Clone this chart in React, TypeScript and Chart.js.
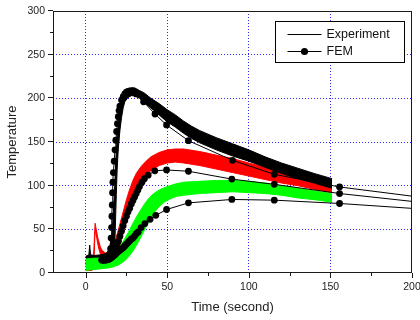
import React, { useEffect, useRef } from 'react';
import { Chart, registerables } from 'chart.js';

Chart.register(...registerables);

// ---------- axes / text ----------
const X_TICKS = [0, 25, 50, 75, 100, 125, 150, 175, 200];
const X_LABELS = [0, 50, 100, 150, 200];
const X_GRID = [0, 50, 100, 150];
const Y_TICKS = [0, 25, 50, 75, 100, 125, 150, 175, 200, 225, 250, 275, 300];
const Y_LABELS = [0, 50, 100, 150, 200, 250, 300];
const Y_GRID = [50, 100, 150, 200, 250];
const X_TITLE = 'Time (second)';
const Y_TITLE = 'Temperature';
const LEGEND_LABELS = ['Experiment', 'FEM'];

// ---------- experiment 1 (black band): lower / upper edge ----------
const EXP1_LOW = [[0,10],[5,11],[10,12],[13,13],[16,14],[17,18],[18,40],[18.8,90],[19.3,118],[20,142],[21,163],[22,178],[23,189],[24,196],[26,201],[28,203],[30,203],[33,200],[36,195],[40,189],[45,181],[50,173],[55,167],[60,160],[65,154],[70,149],[80,141],[90,134],[100,128],[110,121],[120,114],[130,108],[140,103],[151,97]];
const EXP1_HIGH = [[0,19],[2,21],[2.5,32],[3,21],[5,20],[10,21],[13,23],[14.5,28],[16,42],[17,70],[17.8,100],[18.5,130],[19.3,155],[20.3,175],[21.3,190],[22.5,200],[24,206],[26,209],[28,212],[30,212],[33,209],[36,206],[40,200],[45,194],[50,187],[55,181],[60,174],[65,168],[70,163],[80,155],[90,148],[100,141],[110,133],[120,126],[130,120],[140,114],[151,108]];

// ---------- experiment 2 (red band) ----------
const EXP2_LOW = [[0,3],[4,3],[5,5],[5.6,40],[6,50],[7,38],[8,28],[9,22],[10,17],[12,13],[16,14],[18,18],[20,25],[22,38],[24,52],[26,66],[28,79],[30,90],[32,99],[34,106],[36,111],[40,117],[45,123],[50,126],[55,127],[60,126],[70,123],[80,119],[90,115],[100,111],[110,107],[120,103],[130,100],[140,96],[151,92]];
const EXP2_HIGH = [[0,12],[4,12],[5,25],[5.8,57],[6.5,50],[7.5,40],[9,30],[10,26],[12,23],[15,24],[17,30],[19,42],[21,56],[23,70],[25,84],[27,96],[29,106],[31,114],[34,122],[37,128],[40,133],[45,138],[50,141],[55,142],[60,142],[70,139],[80,135],[90,131],[100,126],[110,121],[120,117],[130,112],[140,108],[151,104]];

// ---------- experiment 3 (green band) ----------
const EXP3_LOW = [[0,3],[5,4],[10,5],[15,6],[20,9],[24,14],[27,20],[30,28],[33,38],[36,49],[39,60],[42,69],[45,76],[48,81],[52,85],[56,88],[60,89],[70,91],[80,92],[90,93],[100,92],[110,91],[120,89],[130,86],[140,84],[151,81]];
const EXP3_HIGH = [[0,16],[5,17],[10,17],[14,18],[17,22],[20,28],[23,36],[26,46],[29,57],[32,67],[35,76],[38,84],[41,90],[45,95],[50,99],[55,102],[60,104],[70,105],[80,106],[90,106],[100,105],[110,103],[120,100],[130,97],[140,94],[151,91]];

// ---------- FEM curves ----------
const FEM1 = [[10,15],[11,15],[12,15],[13,15.5],[14,16],[14.8,19],[15.3,28],[15.6,40],[15.9,52],[16.1,65],[16.3,78],[16.5,92],[16.7,104],[17,115],[17.5,128],[18,141],[18.5,152],[19,162],[19.5,171],[20,179],[20.5,186],[21,191],[22,198],[23,202],[24,205],[25,207],[26,208],[27,208.5],[28,208.5],[29.5,207],[31,205],[35.5,196],[42.5,182],[49.6,169.5],[63,151.5],[90,129],[115.6,113],[155.6,98.5],[200,88]];
const FEM2 = [[10,15],[11,15],[12,15],[13,15],[14,15.5],[15,16.5],[16,18],[17,21],[18,25],[19,30],[20,36],[21,42],[22,48],[23,54],[24,60],[25,65],[26,70],[27,74],[28,79],[29,83],[30,87],[31,91],[32,95],[33,99],[34.5,104],[36,108],[38.3,112],[42.4,117],[49.6,118],[63,116.5],[89.6,107.5],[115.6,101.5],[155.6,91],[200,82]];
const FEM3 = [[10,15],[11,15],[12,15],[13,15.5],[14,16],[15,17],[16,18],[17,19.5],[18,21],[19,23],[20,24.5],[21,26],[22,27.5],[23,29],[24,31],[25,33],[26,35],[27,37],[28,39],[29,40],[30,42.5],[31,45],[32.2,47],[34,52],[36.3,56.6],[39.5,61.5],[43,66],[49.6,72.7],[63,80.3],[89.6,84.2],[115.6,83.4],[155.6,79.6],[200,74]];

const FONT = '"Liberation Sans", Arial, sans-serif';
const GRID_COLOR = '#2a2aff';
const TEXT_COLOR = '#222';

const toXY = (arr: number[][]) => arr.map(([x, y]) => ({ x, y }));

const bandEdge = (data: number[][], color: string, order: number, fill: any) => ({
  type: 'line' as const,
  data: toXY(data),
  borderColor: color,
  backgroundColor: color,
  borderWidth: 1,
  pointRadius: 0,
  tension: 0,
  fill,
  order,
});

const femSet = (data: number[][]) => ({
  type: 'line' as const,
  data: toXY(data),
  borderColor: '#000',
  backgroundColor: '#000',
  borderWidth: 1,
  tension: 0,
  fill: false,
  order: 0,
  pointBackgroundColor: '#000',
  pointBorderWidth: 0,
  pointRadius: (ctx: any) => (ctx.raw && ctx.raw.x >= 200 ? 0 : 3.4),
});

const decorPlugin = {
  id: 'decor',
  afterDraw(chart: any) {
    const { ctx, chartArea } = chart;
    const { left, right, top, bottom } = chartArea;
    const xs = chart.scales.x;
    const ys = chart.scales.y;
    ctx.save();
    // frame
    ctx.strokeStyle = '#1a1a1a';
    ctx.lineWidth = 1;
    ctx.strokeRect(left + 0.5, top + 0.5, right - left - 1, bottom - top - 1);
    // ticks
    ctx.beginPath();
    X_TICKS.forEach((v) => {
      const px = Math.round(xs.getPixelForValue(v)) + 0.5;
      const len = X_LABELS.includes(v) ? 5 : 3;
      ctx.moveTo(px, bottom);
      ctx.lineTo(px, bottom + len);
    });
    Y_TICKS.forEach((v) => {
      const py = Math.round(ys.getPixelForValue(v)) - 0.5;
      const len = Y_LABELS.includes(v) ? 5 : 3;
      ctx.moveTo(left, py);
      ctx.lineTo(left - len, py);
    });
    ctx.stroke();
    // legend
    const bx = right - 136.5;
    const by = top + 10.5;
    const bw = 129;
    const bh = 41;
    ctx.fillStyle = '#fff';
    ctx.fillRect(bx, by, bw, bh);
    ctx.strokeStyle = '#000';
    ctx.strokeRect(bx, by, bw, bh);
    const rows = [by + 12, by + 29];
    ctx.font = `12.5px ${FONT}`;
    ctx.textBaseline = 'middle';
    ctx.textAlign = 'left';
    rows.forEach((ry, i) => {
      const y = Math.round(ry) + 0.5;
      ctx.beginPath();
      ctx.moveTo(bx + 12, y);
      ctx.lineTo(bx + 46, y);
      ctx.stroke();
      if (i === 1) {
        ctx.beginPath();
        ctx.fillStyle = '#000';
        ctx.arc(bx + 29, y, 3.6, 0, Math.PI * 2);
        ctx.fill();
      }
      ctx.fillStyle = '#111';
      ctx.fillText(LEGEND_LABELS[i], bx + 51, y + 0.5);
    });
    ctx.restore();
  },
};

export default function App() {
  const canvasRef = useRef<HTMLCanvasElement | null>(null);

  useEffect(() => {
    document.body.style.margin = '0';
    const canvas = canvasRef.current;
    if (!canvas) return;
    Chart.defaults.font.family = FONT;
    const chart = new Chart(canvas, {
      type: 'line',
      data: {
        datasets: [
          bandEdge(EXP2_LOW, '#ff0000', 30, false),
          bandEdge(EXP2_HIGH, '#ff0000', 30, '-1'),
          bandEdge(EXP1_LOW, '#000000', 10, false),
          bandEdge(EXP1_HIGH, '#000000', 10, '-1'),
          bandEdge(EXP3_LOW, '#00ff00', 5, false),
          bandEdge(EXP3_HIGH, '#00ff00', 5, '-1'),
          femSet(FEM1),
          femSet(FEM2),
          femSet(FEM3),
        ] as any,
      },
      options: {
        responsive: false,
        animation: false,
        events: [],
        layout: { padding: { left: 0, right: 8, top: 11, bottom: 0 } },
        plugins: {
          legend: { display: false },
          tooltip: { enabled: false },
        },
        scales: {
          x: {
            type: 'linear',
            min: -20,
            max: 200,
            afterBuildTicks: (s: any) => {
              s.ticks = X_TICKS.map((v) => ({ value: v }));
            },
            afterFit: (s: any) => {
              s.height = 47;
              s.paddingLeft = 0;
              s.paddingRight = 0;
            },
            ticks: {
              autoSkip: false,
              maxRotation: 0,
              padding: 8,
              color: TEXT_COLOR,
              font: { family: FONT, size: 10.5 },
              callback: (v: any) => (X_LABELS.includes(Number(v)) ? String(v) : ''),
            },
            grid: {
              drawTicks: false,
              lineWidth: 1,
              color: (c: any) => (c.tick && X_GRID.includes(c.tick.value) ? GRID_COLOR : 'rgba(0,0,0,0)'),
            },
            border: { display: false, dash: [1, 2] },
            title: {
              display: true,
              text: X_TITLE,
              color: TEXT_COLOR,
              font: { family: FONT, size: 13 },
              padding: { top: 0, bottom: 5 },
            },
          },
          y: {
            type: 'linear',
            min: 0,
            max: 300,
            afterBuildTicks: (s: any) => {
              s.ticks = Y_TICKS.map((v) => ({ value: v }));
            },
            afterFit: (s: any) => {
              s.width = 53;
              s.paddingTop = 0;
              s.paddingBottom = 0;
            },
            ticks: {
              autoSkip: false,
              padding: 8,
              color: TEXT_COLOR,
              font: { family: FONT, size: 10.5 },
              callback: (v: any) => (Y_LABELS.includes(Number(v)) ? String(v) : ''),
            },
            grid: {
              drawTicks: false,
              lineWidth: 1,
              color: (c: any) => (c.tick && Y_GRID.includes(c.tick.value) ? GRID_COLOR : 'rgba(0,0,0,0)'),
            },
            border: { display: false, dash: [1, 2] },
            title: {
              display: true,
              text: Y_TITLE,
              color: TEXT_COLOR,
              font: { family: FONT, size: 13 },
              padding: { top: 5, bottom: 0 },
            },
          },
        },
      } as any,
      plugins: [decorPlugin],
    });
    return () => chart.destroy();
  }, []);

  return (
    <div style={{ width: 420, height: 320 }}>
      <canvas ref={canvasRef} width={420} height={320} style={{ display: 'block' }} />
    </div>
  );
}
